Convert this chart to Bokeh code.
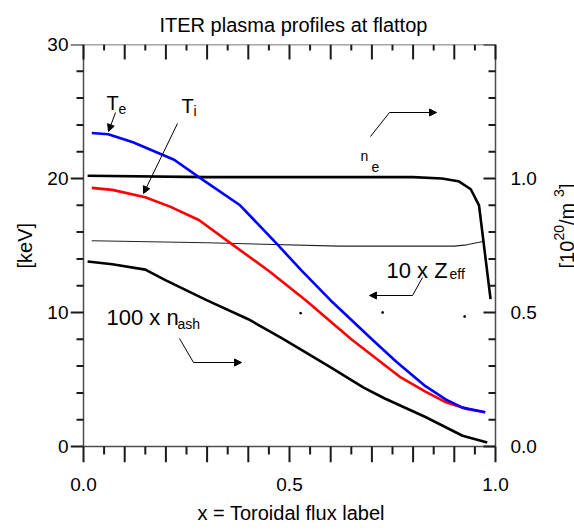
import math
from bokeh.plotting import figure
from bokeh.models import Range1d, FixedTicker, Label, Arrow, NormalHead, Title
from bokeh.core.properties import value
from bokeh.embed import file_html
from bokeh.resources import INLINE

# ---------------- data ----------------
# electron temperature Te [keV]
te_x = [0.02, 0.06, 0.12, 0.22, 0.28, 0.38, 0.47, 0.53, 0.60, 0.70, 0.76, 0.83, 0.88, 0.92, 0.975]
te_y = [23.4, 23.3, 22.7, 21.4, 20.1, 18.0, 15.1, 13.1, 10.9, 8.0, 6.3, 4.5, 3.5, 2.9, 2.55]
# ion temperature Ti [keV]
ti_x = [0.02, 0.07, 0.15, 0.21, 0.28, 0.36, 0.45, 0.54, 0.65, 0.77, 0.83, 0.88, 0.93, 0.975]
ti_y = [19.3, 19.15, 18.6, 17.9, 16.9, 15.1, 13.1, 10.9, 8.0, 5.15, 4.1, 3.3, 2.8, 2.55]
# electron density ne [10^20 /m^3] (right axis)
ne_x = [0.01, 0.3, 0.6, 0.8, 0.87, 0.91, 0.94, 0.96, 0.988]
ne_y = [1.01, 1.005, 1.005, 1.005, 1.0, 0.99, 0.96, 0.90, 0.55]
# 10 x Zeff (left axis)
zeff_x = [0.02, 0.3, 0.62, 0.9, 0.93, 0.97]
zeff_y = [15.35, 15.2, 14.95, 14.95, 15.05, 15.3]
# 100 x n_ash [10^20 /m^3] (right axis)
ash_x = [0.01, 0.07, 0.15, 0.2, 0.3, 0.4, 0.48, 0.53, 0.6, 0.68, 0.73, 0.83, 0.92, 0.98]
ash_y = [0.69, 0.68, 0.66, 0.62, 0.545, 0.475, 0.405, 0.36, 0.295, 0.22, 0.18, 0.11, 0.04, 0.015]
# small specks visible in the picture
speck_x = [0.527, 0.726, 0.925]
speck_y = [9.95, 10.0, 9.7]

# tick positions / labels
x_major = [round(i / 10, 1) for i in range(11)]
x_minor = [round(0.05 + i / 10, 2) for i in range(10)]
x_lab_ticks = [0.0, 0.5, 1.0]
x_labels = {0.0: "0.0", 0.5: "0.5", 1.0: "1.0"}
yl_major = [0, 10, 20, 30]
yl_minor = [v for v in range(2, 30, 2) if v % 10 != 0]
yr_major = [0.0, 0.5, 1.0, 1.5]
yr_minor = [round(i / 10, 1) for i in range(1, 15) if i % 5 != 0]
yr_lab_ticks = [0.0, 0.5, 1.0]
yr_labels = {0.0: "0.0", 0.5: "0.5", 1.0: "1.0"}

X0, X1 = 0.0, 1.0      # x data extent
Y0, Y1 = 0.0, 30.0     # keV extent
R1 = 1.5               # density axis top

FONT = "Liberation Sans"
AXC = "#4d4d4d"
TKC = "#1a1a1a"

# geometry in pixels (layout / annotation placement only)
AL, AR, AT, AB = 83, 495, 44, 446     # axes box
TL_MAJ_L, TL_MIN_L = 13, 7            # left ticks (outward)
TL_MAJ_B, TL_MIN_B = 16, 8            # bottom ticks (outward)
TL_MAJ_T, TL_MIN_T = 15, 6            # top ticks (inward)
TL_MAJ_R, TL_MIN_R = 12, 7            # right ticks (inward)
W, H = 574, 531
FL, FB = AL - TL_MAJ_L, AB + TL_MAJ_B   # frame extended to hold outward ticks / right texts

PPX = (AR - AL) / (X1 - X0)     # pixels per x unit
PPY = (AB - AT) / (Y1 - Y0)     # pixels per keV
KEV_PER_NE = (Y1 - Y0) / R1


def dx(px):
    return X0 + (px - AL) / PPX


def dy(py):
    return Y0 + (AB - py) / PPY


p = figure(width=W, height=H,
           x_range=Range1d(dx(FL), dx(W)), y_range=Range1d(dy(FB), Y1),
           output_backend="svg", toolbar_location=None,
           min_border_left=FL, min_border_right=0,
           min_border_top=AT, min_border_bottom=H - FB)
p.extra_y_ranges = {"ne": Range1d(dy(FB) / KEV_PER_NE, R1)}
p.outline_line_color = None
p.xgrid.visible = False
p.ygrid.visible = False
p.background_fill_color = "white"
p.border_fill_color = "white"

p.title.text = "ITER plasma profiles at flattop"
p.title.text_font = FONT
p.title.text_font_size = "20px"
p.title.text_font_style = "normal"
p.title.text_color = "black"
p.title.align = "left"
p.title.offset = 159 - FL
p.title.standoff = 18

# ---- axes: tick labels (library axes) ----
xa = p.xaxis[0]
xa.ticker = FixedTicker(ticks=x_lab_ticks, minor_ticks=[])
xa.major_label_overrides = x_labels
xa.major_label_standoff = 15

ya = p.yaxis[0]
ya.ticker = FixedTicker(ticks=yl_major, minor_ticks=[])
ya.major_label_standoff = 2

for ax in (xa, ya):
    ax.axis_line_color = None
    ax.major_tick_line_color = None
    ax.minor_tick_line_color = None
    ax.major_tick_in = 0
    ax.major_tick_out = 0
    ax.minor_tick_in = 0
    ax.minor_tick_out = 0
    ax.major_label_text_font = FONT
    ax.major_label_text_font_size = "19px"
    ax.major_label_text_color = "black"

# axis titles
p.add_layout(Title(text="x = Toroidal flux label", text_font=FONT, text_font_size="20px",
                   text_font_style="normal", text_color="black", align="left",
                   offset=197 - FL, standoff=13), "below")
p.add_layout(Title(text="[keV]", text_font=FONT, text_font_size="20px",
                   text_font_style="normal", text_color="black", align="left",
                   offset=FB - 268, standoff=17), "left")

# ---- axis lines and tick marks drawn through the scales ----
p.segment(x0=[X0, X0, X0, X1], y0=[Y0, Y1, Y0, Y0], x1=[X1, X1, X0, X1], y1=[Y0, Y1, Y1, Y1],
          line_color=AXC, line_width=1.5)


def ticks_v(xs, ybase, length_px, name):
    tx0 = list(xs)
    tx1 = list(xs)
    ty0 = [ybase for _ in xs]
    ty1 = [ybase + length_px / PPY for _ in xs]
    p.segment(x0=tx0, y0=ty0, x1=tx1, y1=ty1, line_color=TKC, line_width=2, name=name)


def ticks_h(ys, xbase, length_px, name, rng="default"):
    ty0 = list(ys)
    ty1 = list(ys)
    tx0 = [xbase for _ in ys]
    tx1 = [xbase + length_px / PPX for _ in ys]
    p.segment(x0=tx0, y0=ty0, x1=tx1, y1=ty1, line_color=TKC, line_width=2,
              y_range_name=rng, name=name)


ticks_v(x_major, Y0, -TL_MAJ_B, "bottom_major")
ticks_v(x_minor, Y0, -TL_MIN_B, "bottom_minor")
ticks_v(x_major, Y1, -TL_MAJ_T, "top_major")
ticks_v(x_minor, Y1, -TL_MIN_T, "top_minor")
ticks_h(yl_major, X0, -TL_MAJ_L, "left_major")
ticks_h(yl_minor, X0, -TL_MIN_L, "left_minor")
ticks_h(yr_major, X1, -TL_MAJ_R, "right_major", rng="ne")
ticks_h(yr_minor, X1, -TL_MIN_R, "right_minor", rng="ne")

# right (density) tick labels, placed through the density scale
p.text(x=[X1 + 15 / PPX] * len(yr_lab_ticks), y=yr_lab_ticks,
       text=[yr_labels[t] for t in yr_lab_ticks], y_range_name="ne",
       text_font=value(FONT), text_font_size="19px", text_color="black",
       text_align="left", text_baseline="middle")

# ---- curves ----
p.line(zeff_x, zeff_y, line_color="#222222", line_width=1.1)
p.line(ne_x, ne_y, y_range_name="ne", line_color="black", line_width=2.6)
p.line(ash_x, ash_y, y_range_name="ne", line_color="black", line_width=2.6)
p.line(ti_x, ti_y, line_color="#ff0000", line_width=2.6)
p.line(te_x, te_y, line_color="#0000ff", line_width=2.6)
p.scatter(speck_x, speck_y, marker="square", size=1.5, color="black")


def label(text, px, py, size, align="left"):
    p.add_layout(Label(x=dx(px), y=dy(py), text=text, text_font=FONT,
                       text_font_size=f"{size}px", text_color="black",
                       text_align=align, text_baseline="alphabetic"))


def seg(x0, y0, x1, y1, head=False):
    end = NormalHead(size=7, fill_color="black", line_color="black", line_width=1) if head else None
    p.add_layout(Arrow(x_start=dx(x0), y_start=dy(y0), x_end=dx(x1), y_end=dy(y1),
                       end=end, line_color="black", line_width=1))


# curve annotations
label("T", 106, 102, 20)
label("e", 118, 108, 14)
seg(115, 112, 108, 131, head=True)

label("T", 181, 105, 20)
label("i", 193, 110, 14)
seg(177, 123, 143, 193, head=True)

label("n", 360, 155, 14)
label("e", 371, 166, 14)
seg(370, 136, 389, 112)
seg(389, 112, 436, 112, head=True)

label("10 x Z", 386, 270, 22)
label("eff", 449, 273, 14)
seg(422, 277, 412, 295)
seg(412, 295, 369, 295, head=True)

label("100 x n", 106, 317, 22)
label("ash", 177, 323, 14)
seg(179, 338, 193, 362)
seg(193, 362, 241, 362, head=True)

# rotated density-axis title [10^20 /m^3 ] (reads bottom to top)
r_text = ["[10", "20", " /m", "3", " ]"]
r_size = ["20px", "14px", "20px", "14px", "20px"]
r_base = [566, 558, 566, 558, 566]          # baseline x (pixels from page left)
r_start = [268, 240, 224.5, 196.5, 188.5]   # start y (pixels from top), text runs upward
p.text(x=[dx(v) for v in r_base], y=[dy(v) for v in r_start], text=r_text,
       angle=math.pi / 2, text_font=value(FONT), text_font_size=r_size, text_color="black",
       text_align="left", text_baseline="alphabetic")

open("out.html", "w").write(file_html(p, INLINE))
